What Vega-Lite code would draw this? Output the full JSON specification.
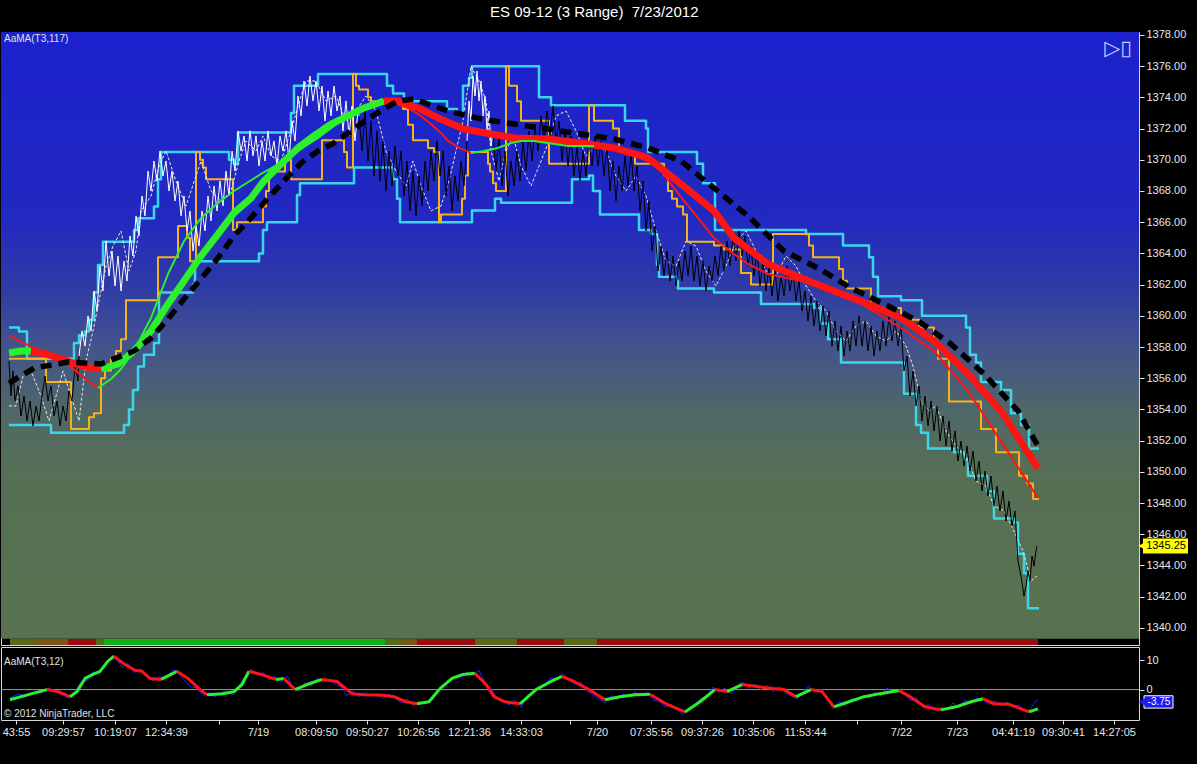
{
  "$schema": "https://vega.github.io/schema/vega-lite/v6.json",
  "background": "black",
  "padding": {"left": 0, "top": 5, "right": 8, "bottom": 29},
  "spacing": 0,
  "title": {"text": "ES 09-12 (3 Range) \u00a07/23/2012", "color": "white", "fontSize": 15, "font": "Liberation Sans", "fontWeight": "normal", "anchor": "middle", "frame": "bounds", "offset": 8},
  "config": {
    "view": {"stroke": "#d8d8d8", "strokeWidth": 1},
    "axis": {"labelFont": "Liberation Sans", "labelFontSize": 11, "labelColor": "#e6e6e6", "tickColor": "#e6e6e6", "domain": false, "grid": false, "labelOverlap": false, "labelFlush": false},
    "text": {"font": "Liberation Sans"}
  },
  "datasets": {
    "hi": [{"x":8,"y":1359.25},{"x":18,"y":1359},{"x":26,"y":1357.25},{"x":73,"y":1358.25},{"x":78,"y":1358.75},{"x":84,"y":1359},{"x":88,"y":1359.75},{"x":93,"y":1361.5},{"x":97,"y":1363.25},{"x":102,"y":1364.75},{"x":133,"y":1365.5},{"x":137,"y":1366.25},{"x":153,"y":1367},{"x":157,"y":1368.75},{"x":160,"y":1370.5},{"x":228,"y":1370},{"x":233,"y":1369.75},{"x":237,"y":1371.75},{"x":290,"y":1373},{"x":293,"y":1374.75},{"x":317,"y":1375.5},{"x":386,"y":1374.75},{"x":392,"y":1374.25},{"x":403,"y":1373.75},{"x":446,"y":1373.25},{"x":456,"y":1373},{"x":462,"y":1374.75},{"x":468,"y":1375.25},{"x":471,"y":1376},{"x":538,"y":1374},{"x":550,"y":1373.5},{"x":624,"y":1372.5},{"x":645,"y":1372},{"x":647,"y":1370.5},{"x":696,"y":1369.75},{"x":702,"y":1368.5},{"x":714,"y":1365.5},{"x":805,"y":1365.25},{"x":842,"y":1364.5},{"x":868,"y":1363.75},{"x":872,"y":1362.5},{"x":877,"y":1361.25},{"x":900,"y":1361},{"x":921,"y":1360},{"x":965,"y":1359.25},{"x":969,"y":1357.5},{"x":975,"y":1357},{"x":980,"y":1355.75},{"x":1000,"y":1355.25},{"x":1010,"y":1353.75},{"x":1020,"y":1353},{"x":1028,"y":1351.5},{"x":1038,"y":1351.5}],
    "lo": [{"x":8,"y":1353},{"x":50,"y":1352.5},{"x":123,"y":1353},{"x":128,"y":1354},{"x":132,"y":1355.25},{"x":137,"y":1356.75},{"x":143,"y":1357.5},{"x":153,"y":1358.25},{"x":158,"y":1361.5},{"x":192,"y":1362},{"x":194,"y":1363.5},{"x":258,"y":1364},{"x":262,"y":1365.5},{"x":266,"y":1366},{"x":296,"y":1367.75},{"x":299,"y":1368.5},{"x":353,"y":1369.5},{"x":392,"y":1368.75},{"x":396,"y":1367.5},{"x":399,"y":1366},{"x":471,"y":1366.75},{"x":494,"y":1367.5},{"x":500,"y":1367.25},{"x":571,"y":1368.75},{"x":588,"y":1369},{"x":592,"y":1368},{"x":599,"y":1366.5},{"x":638,"y":1365.5},{"x":650,"y":1365.25},{"x":656,"y":1363.25},{"x":658,"y":1362.5},{"x":675,"y":1362.25},{"x":677,"y":1361.75},{"x":713,"y":1361.5},{"x":760,"y":1360.75},{"x":813,"y":1360.5},{"x":820,"y":1359.5},{"x":827,"y":1358.5},{"x":840,"y":1357},{"x":903,"y":1355},{"x":915,"y":1353},{"x":920,"y":1352.5},{"x":927,"y":1351.5},{"x":953,"y":1351.25},{"x":963,"y":1350.75},{"x":967,"y":1349.75},{"x":986,"y":1348.75},{"x":993,"y":1347},{"x":1013,"y":1346.75},{"x":1017,"y":1344.75},{"x":1023,"y":1343.5},{"x":1027,"y":1341.25},{"x":1038,"y":1341.25}],
    "orange": [{"x":8,"y":1357.25},{"x":45,"y":1355.75},{"x":70,"y":1352.75},{"x":88,"y":1353.5},{"x":93,"y":1353.75},{"x":100,"y":1356},{"x":104,"y":1356.5},{"x":110,"y":1357.25},{"x":115,"y":1357.75},{"x":120,"y":1358.5},{"x":125,"y":1361},{"x":157,"y":1363.75},{"x":177,"y":1365.75},{"x":186,"y":1365},{"x":189,"y":1363.5},{"x":195,"y":1370.5},{"x":199,"y":1370},{"x":202,"y":1369.5},{"x":205,"y":1368.75},{"x":232,"y":1365.5},{"x":236,"y":1366},{"x":262,"y":1367},{"x":265,"y":1368},{"x":268,"y":1369.25},{"x":284,"y":1370},{"x":290,"y":1368.75},{"x":321,"y":1371.25},{"x":343,"y":1370.5},{"x":346,"y":1369.5},{"x":352,"y":1375.5},{"x":355,"y":1374.75},{"x":358,"y":1374.5},{"x":367,"y":1374},{"x":370,"y":1373.75},{"x":402,"y":1373.25},{"x":407,"y":1372.25},{"x":412,"y":1371.25},{"x":427,"y":1370.75},{"x":433,"y":1370.5},{"x":438,"y":1366},{"x":440,"y":1366.5},{"x":461,"y":1367.5},{"x":464,"y":1369},{"x":467,"y":1370.5},{"x":487,"y":1369.75},{"x":489,"y":1369.25},{"x":492,"y":1368.5},{"x":495,"y":1368},{"x":505,"y":1376},{"x":508,"y":1374.75},{"x":516,"y":1373.75},{"x":520,"y":1372.5},{"x":548,"y":1369.75},{"x":588,"y":1373.5},{"x":593,"y":1372.5},{"x":612,"y":1372},{"x":618,"y":1370.5},{"x":634,"y":1369.75},{"x":663,"y":1369},{"x":667,"y":1368},{"x":671,"y":1367.5},{"x":676,"y":1367},{"x":682,"y":1366.5},{"x":686,"y":1364.75},{"x":713,"y":1364.5},{"x":723,"y":1364.25},{"x":740,"y":1362.75},{"x":750,"y":1362},{"x":772,"y":1365.25},{"x":808,"y":1364.5},{"x":812,"y":1363.75},{"x":838,"y":1363},{"x":842,"y":1362.25},{"x":846,"y":1361.75},{"x":870,"y":1360.5},{"x":900,"y":1359.75},{"x":918,"y":1359.25},{"x":933,"y":1358.25},{"x":937,"y":1357.25},{"x":948,"y":1354.5},{"x":980,"y":1352.75},{"x":995,"y":1351.25},{"x":1018,"y":1349.75},{"x":1026,"y":1349.25},{"x":1032,"y":1348.25},{"x":1038,"y":1348.25}],
    "dots": [{"x":8,"y":1354.22},{"x":15,"y":1354.22},{"x":22,"y":1356.14},{"x":30,"y":1356.46},{"x":40,"y":1354.86},{"x":48,"y":1353.26},{"x":55,"y":1354.86},{"x":62,"y":1356.46},{"x":70,"y":1354.86},{"x":78,"y":1353.26},{"x":85,"y":1357.1},{"x":92,"y":1359.03},{"x":98,"y":1360.95},{"x":105,"y":1363.19},{"x":112,"y":1364.47},{"x":120,"y":1365.44},{"x":128,"y":1362.87},{"x":135,"y":1364.15},{"x":140,"y":1366.72},{"x":150,"y":1367.68},{"x":158,"y":1369.6},{"x":165,"y":1370.56},{"x":175,"y":1368.64},{"x":185,"y":1367.04},{"x":195,"y":1368.96},{"x":200,"y":1369.92},{"x":210,"y":1368},{"x":220,"y":1367.36},{"x":230,"y":1368},{"x":238,"y":1369.92},{"x":245,"y":1371.21},{"x":255,"y":1370.56},{"x":262,"y":1371.53},{"x":270,"y":1370.24},{"x":280,"y":1369.92},{"x":290,"y":1371.85},{"x":297,"y":1373.45},{"x":305,"y":1375.05},{"x":315,"y":1375.05},{"x":325,"y":1373.77},{"x":335,"y":1374.09},{"x":345,"y":1372.49},{"x":355,"y":1373.13},{"x":365,"y":1374.09},{"x":375,"y":1373.13},{"x":385,"y":1370.56},{"x":395,"y":1369.28},{"x":405,"y":1368.32},{"x":412,"y":1369.92},{"x":420,"y":1368.32},{"x":430,"y":1366.72},{"x":440,"y":1367.04},{"x":448,"y":1368.64},{"x":455,"y":1370.56},{"x":462,"y":1372.49},{"x":470,"y":1376.01},{"x":478,"y":1375.05},{"x":485,"y":1373.77},{"x":490,"y":1370.56},{"x":498,"y":1368.64},{"x":505,"y":1370.56},{"x":512,"y":1371.53},{"x":520,"y":1369.6},{"x":530,"y":1368.32},{"x":540,"y":1369.92},{"x":548,"y":1371.21},{"x":555,"y":1372.81},{"x":565,"y":1373.13},{"x":575,"y":1371.85},{"x":585,"y":1370.24},{"x":595,"y":1370.88},{"x":605,"y":1370.56},{"x":615,"y":1368.96},{"x":625,"y":1368},{"x":635,"y":1368.96},{"x":645,"y":1367.68},{"x":655,"y":1365.44},{"x":665,"y":1363.51},{"x":675,"y":1363.19},{"x":685,"y":1364.79},{"x":695,"y":1364.47},{"x":705,"y":1362.87},{"x":715,"y":1361.91},{"x":725,"y":1363.19},{"x":735,"y":1364.79},{"x":745,"y":1365.44},{"x":755,"y":1364.15},{"x":765,"y":1362.87},{"x":775,"y":1362.55},{"x":785,"y":1363.83},{"x":795,"y":1363.19},{"x":805,"y":1361.91},{"x":815,"y":1360.95},{"x":825,"y":1360.31},{"x":835,"y":1359.03},{"x":845,"y":1358.38},{"x":855,"y":1359.35},{"x":865,"y":1359.67},{"x":875,"y":1358.71},{"x":885,"y":1358.38},{"x":895,"y":1359.03},{"x":905,"y":1358.06},{"x":912,"y":1356.78},{"x":920,"y":1354.54},{"x":928,"y":1353.9},{"x":935,"y":1354.22},{"x":945,"y":1352.62},{"x":955,"y":1351.65},{"x":965,"y":1351.01},{"x":975,"y":1349.41},{"x":985,"y":1349.09},{"x":993,"y":1347.81},{"x":1003,"y":1347.49},{"x":1013,"y":1346.2},{"x":1022,"y":1344.92},{"x":1030,"y":1343},{"x":1036,"y":1343.32}],
    "price": [
      {"x":8,"y":1357.1,"g":1,"c":"b"},{"x":10,"y":1354.86,"g":1,"c":"b"},{"x":12,"y":1356.46,"g":1,"c":"b"},{"x":14,"y":1354.54,"g":1,"c":"b"},{"x":17,"y":1355.5,"g":1,"c":"b"},{"x":20,"y":1353.58,"g":1,"c":"b"},{"x":23,"y":1354.86,"g":1,"c":"b"},{"x":26,"y":1353.26,"g":1,"c":"b"},{"x":29,"y":1354.54,"g":1,"c":"b"},{"x":32,"y":1352.94,"g":1,"c":"b"},{"x":35,"y":1354.22,"g":1,"c":"b"},{"x":38,"y":1353.26,"g":1,"c":"b"},{"x":41,"y":1354.86,"g":1,"c":"b"},{"x":44,"y":1356.14,"g":1,"c":"b"},{"x":47,"y":1354.54,"g":1,"c":"b"},{"x":50,"y":1355.5,"g":1,"c":"b"},{"x":53,"y":1353.58,"g":1,"c":"b"},{"x":56,"y":1354.54,"g":1,"c":"b"},{"x":59,"y":1352.94,"g":1,"c":"b"},{"x":62,"y":1354.22,"g":1,"c":"b"},{"x":65,"y":1353.26,"g":1,"c":"b"},{"x":68,"y":1355.18,"g":1,"c":"b"},{"x":71,"y":1354.54,"g":1,"c":"b"},{"x":74,"y":1356.78,"g":1,"c":"b"},{"x":77,"y":1355.82,"g":1,"c":"b"},{"x":78,"y":1357.42,"g":1,"c":"b"},
      {"x":78,"y":1357.42,"g":2,"c":"w"},{"x":81,"y":1359.03,"g":2,"c":"w"},{"x":84,"y":1358.06,"g":2,"c":"w"},{"x":87,"y":1359.99,"g":2,"c":"w"},{"x":90,"y":1359.03,"g":2,"c":"w"},{"x":93,"y":1361.59,"g":2,"c":"w"},{"x":96,"y":1360.31,"g":2,"c":"w"},{"x":99,"y":1363.19,"g":2,"c":"w"},{"x":102,"y":1361.59,"g":2,"c":"w"},{"x":105,"y":1364.79,"g":2,"c":"w"},{"x":108,"y":1362.55,"g":2,"c":"w"},{"x":111,"y":1364.15,"g":2,"c":"w"},{"x":114,"y":1361.91,"g":2,"c":"w"},{"x":117,"y":1363.83,"g":2,"c":"w"},{"x":120,"y":1361.59,"g":2,"c":"w"},{"x":123,"y":1363.51,"g":2,"c":"w"},{"x":126,"y":1362.23,"g":2,"c":"w"},{"x":129,"y":1365.12,"g":2,"c":"w"},{"x":132,"y":1363.83,"g":2,"c":"w"},{"x":135,"y":1366.4,"g":2,"c":"w"},{"x":138,"y":1365.12,"g":2,"c":"w"},{"x":141,"y":1367.68,"g":2,"c":"w"},{"x":144,"y":1366.4,"g":2,"c":"w"},{"x":147,"y":1369.28,"g":2,"c":"w"},{"x":150,"y":1368,"g":2,"c":"w"},{"x":153,"y":1369.92,"g":2,"c":"w"},{"x":156,"y":1368.64,"g":2,"c":"w"},{"x":159,"y":1370.56,"g":2,"c":"w"},{"x":162,"y":1368.96,"g":2,"c":"w"},{"x":165,"y":1369.92,"g":2,"c":"w"},{"x":168,"y":1368,"g":2,"c":"w"},{"x":171,"y":1369.28,"g":2,"c":"w"},{"x":174,"y":1367.36,"g":2,"c":"w"},{"x":177,"y":1368.64,"g":2,"c":"w"},{"x":180,"y":1366.4,"g":2,"c":"w"},{"x":183,"y":1367.68,"g":2,"c":"w"},{"x":186,"y":1365.44,"g":2,"c":"w"},{"x":189,"y":1366.72,"g":2,"c":"w"},{"x":192,"y":1364.15,"g":2,"c":"w"},{"x":195,"y":1365.76,"g":2,"c":"w"},{"x":198,"y":1364.47,"g":2,"c":"w"},{"x":201,"y":1366.72,"g":2,"c":"w"},{"x":204,"y":1365.44,"g":2,"c":"w"},{"x":207,"y":1367.68,"g":2,"c":"w"},{"x":210,"y":1366.08,"g":2,"c":"w"},{"x":213,"y":1368.32,"g":2,"c":"w"},{"x":216,"y":1366.72,"g":2,"c":"w"},{"x":219,"y":1368.64,"g":2,"c":"w"},{"x":222,"y":1367.04,"g":2,"c":"w"},{"x":225,"y":1369.28,"g":2,"c":"w"},{"x":228,"y":1367.68,"g":2,"c":"w"},{"x":231,"y":1370.56,"g":2,"c":"w"},{"x":234,"y":1369.28,"g":2,"c":"w"},{"x":237,"y":1371.85,"g":2,"c":"w"},{"x":240,"y":1370.56,"g":2,"c":"w"},{"x":243,"y":1371.53,"g":2,"c":"w"},{"x":246,"y":1369.92,"g":2,"c":"w"},{"x":249,"y":1371.85,"g":2,"c":"w"},{"x":252,"y":1370.24,"g":2,"c":"w"},{"x":255,"y":1371.53,"g":2,"c":"w"},{"x":258,"y":1369.6,"g":2,"c":"w"},{"x":261,"y":1371.21,"g":2,"c":"w"},{"x":264,"y":1369.92,"g":2,"c":"w"},{"x":267,"y":1371.85,"g":2,"c":"w"},{"x":270,"y":1370.24,"g":2,"c":"w"},{"x":273,"y":1371.21,"g":2,"c":"w"},{"x":276,"y":1369.6,"g":2,"c":"w"},{"x":279,"y":1371.53,"g":2,"c":"w"},{"x":282,"y":1370.56,"g":2,"c":"w"},{"x":285,"y":1371.85,"g":2,"c":"w"},{"x":288,"y":1369.92,"g":2,"c":"w"},{"x":291,"y":1372.49,"g":2,"c":"w"},{"x":294,"y":1371.21,"g":2,"c":"w"},{"x":297,"y":1374.09,"g":2,"c":"w"},{"x":300,"y":1372.81,"g":2,"c":"w"},{"x":303,"y":1375.05,"g":2,"c":"w"},{"x":306,"y":1373.45,"g":2,"c":"w"},{"x":309,"y":1375.37,"g":2,"c":"w"},{"x":312,"y":1373.77,"g":2,"c":"w"},{"x":315,"y":1375.05,"g":2,"c":"w"},{"x":318,"y":1373.13,"g":2,"c":"w"},{"x":321,"y":1374.73,"g":2,"c":"w"},{"x":324,"y":1372.49,"g":2,"c":"w"},{"x":327,"y":1374.41,"g":2,"c":"w"},{"x":330,"y":1372.81,"g":2,"c":"w"},{"x":333,"y":1374.73,"g":2,"c":"w"},{"x":336,"y":1373.13,"g":2,"c":"w"},{"x":339,"y":1374.09,"g":2,"c":"w"},{"x":342,"y":1371.85,"g":2,"c":"w"},{"x":345,"y":1373.77,"g":2,"c":"w"},{"x":348,"y":1371.53,"g":2,"c":"w"},{"x":351,"y":1373.45,"g":2,"c":"w"},{"x":354,"y":1371.21,"g":2,"c":"w"},{"x":357,"y":1373.13,"g":2,"c":"w"},{"x":358,"y":1372.81,"g":2,"c":"w"},
      {"x":358,"y":1372.81,"g":3,"c":"b"},{"x":361,"y":1370.56,"g":3,"c":"b"},{"x":364,"y":1373.13,"g":3,"c":"b"},{"x":367,"y":1369.92,"g":3,"c":"b"},{"x":370,"y":1372.49,"g":3,"c":"b"},{"x":373,"y":1368.96,"g":3,"c":"b"},{"x":376,"y":1371.85,"g":3,"c":"b"},{"x":379,"y":1368.64,"g":3,"c":"b"},{"x":382,"y":1371.21,"g":3,"c":"b"},{"x":385,"y":1368,"g":3,"c":"b"},{"x":388,"y":1370.56,"g":3,"c":"b"},{"x":391,"y":1368.32,"g":3,"c":"b"},{"x":394,"y":1370.88,"g":3,"c":"b"},{"x":397,"y":1368.96,"g":3,"c":"b"},{"x":400,"y":1370.56,"g":3,"c":"b"},{"x":403,"y":1367.68,"g":3,"c":"b"},{"x":406,"y":1369.92,"g":3,"c":"b"},{"x":409,"y":1366.72,"g":3,"c":"b"},{"x":412,"y":1369.28,"g":3,"c":"b"},{"x":415,"y":1366.4,"g":3,"c":"b"},{"x":418,"y":1368.96,"g":3,"c":"b"},{"x":421,"y":1367.04,"g":3,"c":"b"},{"x":424,"y":1369.92,"g":3,"c":"b"},{"x":427,"y":1368,"g":3,"c":"b"},{"x":430,"y":1370.56,"g":3,"c":"b"},{"x":433,"y":1368.64,"g":3,"c":"b"},{"x":436,"y":1371.21,"g":3,"c":"b"},{"x":439,"y":1368.96,"g":3,"c":"b"},{"x":442,"y":1370.56,"g":3,"c":"b"},{"x":445,"y":1367.68,"g":3,"c":"b"},{"x":448,"y":1369.6,"g":3,"c":"b"},{"x":451,"y":1366.72,"g":3,"c":"b"},{"x":454,"y":1368.96,"g":3,"c":"b"},{"x":457,"y":1367.36,"g":3,"c":"b"},{"x":460,"y":1369.92,"g":3,"c":"b"},{"x":463,"y":1368.32,"g":3,"c":"b"},{"x":466,"y":1371.21,"g":3,"c":"b"},
      {"x":466,"y":1371.21,"g":4,"c":"w"},{"x":468,"y":1373.77,"g":4,"c":"w"},{"x":470,"y":1372.49,"g":4,"c":"w"},{"x":472,"y":1375.37,"g":4,"c":"w"},{"x":474,"y":1374.09,"g":4,"c":"w"},{"x":476,"y":1375.69,"g":4,"c":"w"},{"x":478,"y":1373.77,"g":4,"c":"w"},{"x":480,"y":1375.05,"g":4,"c":"w"},{"x":482,"y":1372.81,"g":4,"c":"w"},{"x":484,"y":1374.09,"g":4,"c":"w"},{"x":486,"y":1371.85,"g":4,"c":"w"},{"x":488,"y":1373.13,"g":4,"c":"w"},{"x":490,"y":1370.88,"g":4,"c":"w"},{"x":492,"y":1371.85,"g":4,"c":"w"},
      {"x":492,"y":1371.85,"g":5,"c":"b"},{"x":495,"y":1369.28,"g":5,"c":"b"},{"x":498,"y":1371.53,"g":5,"c":"b"},{"x":501,"y":1368.32,"g":5,"c":"b"},{"x":504,"y":1370.56,"g":5,"c":"b"},{"x":507,"y":1367.68,"g":5,"c":"b"},{"x":510,"y":1369.92,"g":5,"c":"b"},{"x":513,"y":1368.32,"g":5,"c":"b"},{"x":516,"y":1370.56,"g":5,"c":"b"},{"x":519,"y":1368.64,"g":5,"c":"b"},{"x":522,"y":1371.21,"g":5,"c":"b"},{"x":525,"y":1369.28,"g":5,"c":"b"},{"x":528,"y":1371.85,"g":5,"c":"b"},{"x":531,"y":1369.92,"g":5,"c":"b"},{"x":534,"y":1372.17,"g":5,"c":"b"},{"x":537,"y":1370.56,"g":5,"c":"b"},{"x":540,"y":1372.81,"g":5,"c":"b"},{"x":543,"y":1371.21,"g":5,"c":"b"},{"x":546,"y":1373.13,"g":5,"c":"b"},{"x":549,"y":1371.53,"g":5,"c":"b"},{"x":552,"y":1373.45,"g":5,"c":"b"},{"x":555,"y":1371.21,"g":5,"c":"b"},{"x":558,"y":1372.49,"g":5,"c":"b"},{"x":561,"y":1369.92,"g":5,"c":"b"},{"x":564,"y":1371.85,"g":5,"c":"b"},{"x":567,"y":1369.6,"g":5,"c":"b"},{"x":570,"y":1371.53,"g":5,"c":"b"},{"x":573,"y":1368.96,"g":5,"c":"b"},{"x":576,"y":1370.88,"g":5,"c":"b"},{"x":579,"y":1368.64,"g":5,"c":"b"},{"x":582,"y":1370.56,"g":5,"c":"b"},{"x":585,"y":1368.96,"g":5,"c":"b"},{"x":588,"y":1371.21,"g":5,"c":"b"},{"x":591,"y":1369.6,"g":5,"c":"b"},{"x":594,"y":1371.53,"g":5,"c":"b"},{"x":597,"y":1369.6,"g":5,"c":"b"},{"x":600,"y":1371.21,"g":5,"c":"b"},{"x":603,"y":1368.96,"g":5,"c":"b"},{"x":606,"y":1370.88,"g":5,"c":"b"},{"x":609,"y":1368,"g":5,"c":"b"},{"x":612,"y":1369.92,"g":5,"c":"b"},{"x":615,"y":1367.36,"g":5,"c":"b"},{"x":618,"y":1369.6,"g":5,"c":"b"},{"x":621,"y":1368,"g":5,"c":"b"},{"x":624,"y":1370.24,"g":5,"c":"b"},{"x":627,"y":1368.32,"g":5,"c":"b"},{"x":630,"y":1370.56,"g":5,"c":"b"},{"x":633,"y":1368,"g":5,"c":"b"},{"x":636,"y":1369.6,"g":5,"c":"b"},{"x":639,"y":1366.72,"g":5,"c":"b"},{"x":642,"y":1368.64,"g":5,"c":"b"},{"x":645,"y":1365.44,"g":5,"c":"b"},{"x":648,"y":1367.36,"g":5,"c":"b"},{"x":651,"y":1364.15,"g":5,"c":"b"},{"x":654,"y":1365.76,"g":5,"c":"b"},{"x":657,"y":1362.87,"g":5,"c":"b"},{"x":660,"y":1364.47,"g":5,"c":"b"},{"x":663,"y":1362.55,"g":5,"c":"b"},{"x":666,"y":1364.15,"g":5,"c":"b"},{"x":669,"y":1362.23,"g":5,"c":"b"},{"x":672,"y":1363.83,"g":5,"c":"b"},{"x":675,"y":1361.91,"g":5,"c":"b"},{"x":678,"y":1363.51,"g":5,"c":"b"},{"x":681,"y":1362.23,"g":5,"c":"b"},{"x":684,"y":1364.15,"g":5,"c":"b"},{"x":687,"y":1362.55,"g":5,"c":"b"},{"x":690,"y":1364.47,"g":5,"c":"b"},{"x":693,"y":1362.23,"g":5,"c":"b"},{"x":696,"y":1363.83,"g":5,"c":"b"},{"x":699,"y":1361.91,"g":5,"c":"b"},{"x":702,"y":1363.51,"g":5,"c":"b"},{"x":705,"y":1361.59,"g":5,"c":"b"},{"x":708,"y":1363.19,"g":5,"c":"b"},{"x":711,"y":1362.23,"g":5,"c":"b"},{"x":714,"y":1363.83,"g":5,"c":"b"},{"x":717,"y":1362.55,"g":5,"c":"b"},{"x":720,"y":1364.47,"g":5,"c":"b"},{"x":723,"y":1362.87,"g":5,"c":"b"},{"x":726,"y":1364.79,"g":5,"c":"b"},{"x":729,"y":1363.19,"g":5,"c":"b"},{"x":732,"y":1365.12,"g":5,"c":"b"},{"x":735,"y":1363.51,"g":5,"c":"b"},{"x":738,"y":1365.44,"g":5,"c":"b"},{"x":741,"y":1363.83,"g":5,"c":"b"},{"x":744,"y":1365.12,"g":5,"c":"b"},{"x":747,"y":1363.19,"g":5,"c":"b"},{"x":750,"y":1364.47,"g":5,"c":"b"},{"x":753,"y":1362.55,"g":5,"c":"b"},{"x":756,"y":1364.15,"g":5,"c":"b"},{"x":759,"y":1361.91,"g":5,"c":"b"},{"x":762,"y":1363.51,"g":5,"c":"b"},{"x":765,"y":1361.59,"g":5,"c":"b"},{"x":768,"y":1363.19,"g":5,"c":"b"},{"x":771,"y":1361.27,"g":5,"c":"b"},{"x":774,"y":1362.87,"g":5,"c":"b"},{"x":777,"y":1360.95,"g":5,"c":"b"},{"x":780,"y":1362.55,"g":5,"c":"b"},{"x":783,"y":1361.27,"g":5,"c":"b"},{"x":786,"y":1363.19,"g":5,"c":"b"},{"x":789,"y":1361.59,"g":5,"c":"b"},{"x":792,"y":1362.87,"g":5,"c":"b"},{"x":795,"y":1360.95,"g":5,"c":"b"},{"x":798,"y":1362.23,"g":5,"c":"b"},{"x":801,"y":1360.31,"g":5,"c":"b"},{"x":804,"y":1361.59,"g":5,"c":"b"},{"x":807,"y":1359.67,"g":5,"c":"b"},{"x":810,"y":1361.27,"g":5,"c":"b"},{"x":813,"y":1359.35,"g":5,"c":"b"},{"x":816,"y":1360.95,"g":5,"c":"b"},{"x":819,"y":1359.03,"g":5,"c":"b"},{"x":822,"y":1360.63,"g":5,"c":"b"},{"x":825,"y":1358.71,"g":5,"c":"b"},{"x":828,"y":1360.31,"g":5,"c":"b"},{"x":831,"y":1358.06,"g":5,"c":"b"},{"x":834,"y":1359.67,"g":5,"c":"b"},{"x":837,"y":1357.74,"g":5,"c":"b"},{"x":840,"y":1359.35,"g":5,"c":"b"},{"x":843,"y":1357.42,"g":5,"c":"b"},{"x":846,"y":1359.03,"g":5,"c":"b"},{"x":849,"y":1357.74,"g":5,"c":"b"},{"x":852,"y":1359.67,"g":5,"c":"b"},{"x":855,"y":1358.06,"g":5,"c":"b"},{"x":858,"y":1359.99,"g":5,"c":"b"},{"x":861,"y":1358.06,"g":5,"c":"b"},{"x":864,"y":1359.67,"g":5,"c":"b"},{"x":867,"y":1357.74,"g":5,"c":"b"},{"x":870,"y":1359.35,"g":5,"c":"b"},{"x":873,"y":1357.42,"g":5,"c":"b"},{"x":876,"y":1359.03,"g":5,"c":"b"},{"x":879,"y":1357.74,"g":5,"c":"b"},{"x":882,"y":1359.67,"g":5,"c":"b"},{"x":885,"y":1358.06,"g":5,"c":"b"},{"x":888,"y":1359.99,"g":5,"c":"b"},{"x":891,"y":1358.38,"g":5,"c":"b"},{"x":894,"y":1359.67,"g":5,"c":"b"},{"x":897,"y":1358.06,"g":5,"c":"b"},{"x":900,"y":1359.35,"g":5,"c":"b"},{"x":903,"y":1356.46,"g":5,"c":"b"},{"x":906,"y":1357.42,"g":5,"c":"b"},{"x":909,"y":1354.86,"g":5,"c":"b"},{"x":912,"y":1356.46,"g":5,"c":"b"},{"x":915,"y":1354.22,"g":5,"c":"b"},{"x":918,"y":1355.5,"g":5,"c":"b"},{"x":921,"y":1353.26,"g":5,"c":"b"},{"x":924,"y":1354.86,"g":5,"c":"b"},{"x":927,"y":1352.94,"g":5,"c":"b"},{"x":930,"y":1354.54,"g":5,"c":"b"},{"x":933,"y":1352.62,"g":5,"c":"b"},{"x":936,"y":1354.22,"g":5,"c":"b"},{"x":939,"y":1351.97,"g":5,"c":"b"},{"x":942,"y":1353.58,"g":5,"c":"b"},{"x":945,"y":1351.65,"g":5,"c":"b"},{"x":948,"y":1353.26,"g":5,"c":"b"},{"x":951,"y":1351.33,"g":5,"c":"b"},{"x":954,"y":1352.62,"g":5,"c":"b"},{"x":957,"y":1350.69,"g":5,"c":"b"},{"x":960,"y":1351.97,"g":5,"c":"b"},{"x":963,"y":1350.37,"g":5,"c":"b"},{"x":966,"y":1351.65,"g":5,"c":"b"},{"x":969,"y":1350.05,"g":5,"c":"b"},{"x":972,"y":1351.33,"g":5,"c":"b"},{"x":975,"y":1349.41,"g":5,"c":"b"},{"x":978,"y":1350.69,"g":5,"c":"b"},{"x":981,"y":1348.77,"g":5,"c":"b"},{"x":984,"y":1350.05,"g":5,"c":"b"},{"x":987,"y":1348.45,"g":5,"c":"b"},{"x":990,"y":1349.73,"g":5,"c":"b"},{"x":993,"y":1347.81,"g":5,"c":"b"},{"x":996,"y":1349.09,"g":5,"c":"b"},{"x":999,"y":1347.49,"g":5,"c":"b"},{"x":1002,"y":1348.77,"g":5,"c":"b"},{"x":1005,"y":1346.85,"g":5,"c":"b"},{"x":1008,"y":1348.13,"g":5,"c":"b"},{"x":1011,"y":1346.53,"g":5,"c":"b"},{"x":1014,"y":1347.49,"g":5,"c":"b"},{"x":1017,"y":1344.28,"g":5,"c":"b"},{"x":1020,"y":1343.32,"g":5,"c":"b"},{"x":1023,"y":1342.04,"g":5,"c":"b"},{"x":1025,"y":1342.68,"g":5,"c":"b"},{"x":1027,"y":1343.64,"g":5,"c":"b"},{"x":1029,"y":1343,"g":5,"c":"b"},{"x":1031,"y":1344.6,"g":5,"c":"b"},{"x":1033,"y":1343.96,"g":5,"c":"b"},{"x":1035,"y":1344.92,"g":5,"c":"b"},{"x":1036,"y":1345.25,"g":5,"c":"b"}
    ],
    "ma": [
      {"x":8,"y":1357.62,"g":1,"c":"g"},{"x":20,"y":1357.74,"g":1,"c":"g"},{"x":30,"y":1357.74,"g":1,"c":"g"},
      {"x":30,"y":1357.74,"g":2,"c":"r"},{"x":45,"y":1357.55,"g":2,"c":"r"},{"x":60,"y":1357.23,"g":2,"c":"r"},{"x":75,"y":1356.91,"g":2,"c":"r"},{"x":90,"y":1356.65,"g":2,"c":"r"},{"x":100,"y":1356.59,"g":2,"c":"r"},
      {"x":100,"y":1356.59,"g":3,"c":"g"},{"x":117,"y":1356.91,"g":3,"c":"g"},{"x":133,"y":1357.74,"g":3,"c":"g"},{"x":150,"y":1359.03,"g":3,"c":"g"},{"x":167,"y":1360.76,"g":3,"c":"g"},{"x":183,"y":1362.23,"g":3,"c":"g"},{"x":200,"y":1363.83,"g":3,"c":"g"},{"x":217,"y":1365.24,"g":3,"c":"g"},{"x":233,"y":1366.59,"g":3,"c":"g"},{"x":250,"y":1367.55,"g":3,"c":"g"},{"x":263,"y":1368.64,"g":3,"c":"g"},{"x":280,"y":1369.73,"g":3,"c":"g"},{"x":297,"y":1370.76,"g":3,"c":"g"},{"x":313,"y":1371.53,"g":3,"c":"g"},{"x":330,"y":1372.29,"g":3,"c":"g"},{"x":347,"y":1372.81,"g":3,"c":"g"},{"x":363,"y":1373.32,"g":3,"c":"g"},{"x":383,"y":1373.77,"g":3,"c":"g"},
      {"x":383,"y":1373.77,"g":4,"c":"r"},{"x":397,"y":1373.77,"g":4,"c":"r"},{"x":417,"y":1373.32,"g":4,"c":"r"},{"x":437,"y":1372.68,"g":4,"c":"r"},{"x":463,"y":1371.97,"g":4,"c":"r"},{"x":490,"y":1371.65,"g":4,"c":"r"},{"x":513,"y":1371.4,"g":4,"c":"r"},{"x":547,"y":1371.33,"g":4,"c":"r"},{"x":580,"y":1371.08,"g":4,"c":"r"},{"x":613,"y":1370.76,"g":4,"c":"r"},{"x":647,"y":1370.12,"g":4,"c":"r"},{"x":680,"y":1368.45,"g":4,"c":"r"},{"x":713,"y":1366.72,"g":4,"c":"r"},{"x":733,"y":1364.99,"g":4,"c":"r"},{"x":767,"y":1363.32,"g":4,"c":"r"},{"x":800,"y":1362.42,"g":4,"c":"r"},{"x":833,"y":1361.59,"g":4,"c":"r"},{"x":867,"y":1360.76,"g":4,"c":"r"},{"x":900,"y":1359.86,"g":4,"c":"r"},{"x":933,"y":1358.38,"g":4,"c":"r"},{"x":967,"y":1356.27,"g":4,"c":"r"},{"x":1000,"y":1353.9,"g":4,"c":"r"},{"x":1037,"y":1350.24,"g":4,"c":"r"}
    ],
    "ma2": [
      {"x":8,"y":1358.71,"g":1,"c":"r"},{"x":33,"y":1357.94,"g":1,"c":"r"},{"x":67,"y":1356.91,"g":1,"c":"r"},{"x":83,"y":1356.01,"g":1,"c":"r"},{"x":97,"y":1355.37,"g":1,"c":"r"},
      {"x":97,"y":1355.37,"g":2,"c":"g"},{"x":110,"y":1355.95,"g":2,"c":"g"},{"x":120,"y":1356.59,"g":2,"c":"g"},{"x":133,"y":1357.74,"g":2,"c":"g"},{"x":150,"y":1359.86,"g":2,"c":"g"},{"x":167,"y":1362.68,"g":2,"c":"g"},{"x":183,"y":1364.79,"g":2,"c":"g"},{"x":200,"y":1366.27,"g":2,"c":"g"},{"x":217,"y":1367.23,"g":2,"c":"g"},{"x":233,"y":1368,"g":2,"c":"g"},{"x":260,"y":1369.09,"g":2,"c":"g"},{"x":283,"y":1369.92,"g":2,"c":"g"},{"x":300,"y":1370.69,"g":2,"c":"g"},{"x":317,"y":1371.4,"g":2,"c":"g"},{"x":333,"y":1372.17,"g":2,"c":"g"},{"x":350,"y":1372.94,"g":2,"c":"g"},{"x":367,"y":1373.45,"g":2,"c":"g"},{"x":383,"y":1373.77,"g":2,"c":"g"},
      {"x":383,"y":1373.77,"g":3,"c":"r"},{"x":395,"y":1373.58,"g":3,"c":"r"},{"x":407,"y":1373.32,"g":3,"c":"r"},{"x":420,"y":1372.81,"g":3,"c":"r"},{"x":430,"y":1372.29,"g":3,"c":"r"},{"x":440,"y":1371.72,"g":3,"c":"r"},{"x":447,"y":1371.21,"g":3,"c":"r"},{"x":458,"y":1370.76,"g":3,"c":"r"},{"x":470,"y":1370.44,"g":3,"c":"r"},
      {"x":470,"y":1370.44,"g":4,"c":"g"},{"x":483,"y":1370.56,"g":4,"c":"g"},{"x":497,"y":1370.76,"g":4,"c":"g"},{"x":510,"y":1371.08,"g":4,"c":"g"},{"x":520,"y":1371.21,"g":4,"c":"g"},{"x":533,"y":1371.21,"g":4,"c":"g"},{"x":547,"y":1371.08,"g":4,"c":"g"},{"x":567,"y":1370.88,"g":4,"c":"g"},{"x":593,"y":1370.88,"g":4,"c":"g"},
      {"x":593,"y":1370.88,"g":5,"c":"r"},{"x":613,"y":1370.69,"g":5,"c":"r"},{"x":630,"y":1370.37,"g":5,"c":"r"},{"x":647,"y":1369.92,"g":5,"c":"r"},{"x":660,"y":1369.28,"g":5,"c":"r"},{"x":670,"y":1368.45,"g":5,"c":"r"},{"x":683,"y":1367.36,"g":5,"c":"r"},{"x":697,"y":1366.27,"g":5,"c":"r"},{"x":713,"y":1364.99,"g":5,"c":"r"},{"x":733,"y":1363.96,"g":5,"c":"r"},{"x":747,"y":1363.32,"g":5,"c":"r"},{"x":767,"y":1362.68,"g":5,"c":"r"},{"x":800,"y":1362.23,"g":5,"c":"r"},{"x":833,"y":1361.78,"g":5,"c":"r"},{"x":867,"y":1360.5,"g":5,"c":"r"},{"x":900,"y":1359.22,"g":5,"c":"r"},{"x":933,"y":1357.74,"g":5,"c":"r"},{"x":967,"y":1355.18,"g":5,"c":"r"},{"x":1000,"y":1351.97,"g":5,"c":"r"},{"x":1037,"y":1348.32,"g":5,"c":"r"}
    ],
    "dash": [{"x":8,"y":1355.69},{"x":33,"y":1356.65},{"x":67,"y":1357.04},{"x":100,"y":1356.91},{"x":133,"y":1357.74},{"x":150,"y":1358.58},{"x":167,"y":1359.79},{"x":183,"y":1361.08},{"x":200,"y":1362.36},{"x":217,"y":1363.71},{"x":233,"y":1365.12},{"x":250,"y":1366.27},{"x":267,"y":1367.55},{"x":283,"y":1368.64},{"x":300,"y":1369.79},{"x":317,"y":1370.56},{"x":333,"y":1371.08},{"x":350,"y":1371.85},{"x":367,"y":1372.62},{"x":383,"y":1373.26},{"x":397,"y":1373.77},{"x":413,"y":1373.9},{"x":430,"y":1373.51},{"x":447,"y":1373.13},{"x":480,"y":1372.62},{"x":513,"y":1372.29},{"x":547,"y":1371.97},{"x":580,"y":1371.65},{"x":613,"y":1371.33},{"x":647,"y":1370.76},{"x":680,"y":1369.92},{"x":713,"y":1368.19},{"x":747,"y":1366.4},{"x":783,"y":1364.15},{"x":817,"y":1363.06},{"x":850,"y":1361.78},{"x":883,"y":1360.76},{"x":917,"y":1359.67},{"x":950,"y":1358.19},{"x":983,"y":1356.27},{"x":1017,"y":1353.9},{"x":1037,"y":1351.65}],
    "strip": [{"x":9,"x2":32,"c":"ol"},{"x":32,"x2":67,"c":"br"},{"x":67,"x2":95,"c":"rd"},{"x":95,"x2":103,"c":"ol"},{"x":103,"x2":384,"c":"gn"},{"x":384,"x2":401,"c":"ol"},{"x":401,"x2":416,"c":"br"},{"x":416,"x2":474,"c":"rd"},{"x":474,"x2":516,"c":"ol"},{"x":516,"x2":563,"c":"rd"},{"x":563,"x2":596,"c":"ol"},{"x":596,"x2":1037,"c":"rd"}],
    "osc": [
      {"x":9,"v":-3.45,"g":1,"c":"g"},{"x":31,"v":-1.38,"g":1,"c":"g"},{"x":46,"v":0,"g":1,"c":"g"},
      {"x":46,"v":0,"g":2,"c":"r"},{"x":57,"v":-0.69,"g":2,"c":"r"},{"x":69,"v":-2.41,"g":2,"c":"r"},
      {"x":69,"v":-2.41,"g":3,"c":"g"},{"x":76,"v":-0.69,"g":3,"c":"g"},{"x":84,"v":3.79,"g":3,"c":"g"},{"x":92,"v":5.17,"g":3,"c":"g"},{"x":99,"v":6.21,"g":3,"c":"g"},{"x":107,"v":9.66,"g":3,"c":"g"},{"x":113,"v":11.38,"g":3,"c":"g"},
      {"x":113,"v":11.38,"g":4,"c":"r"},{"x":122,"v":8.97,"g":4,"c":"r"},{"x":134,"v":6.55,"g":4,"c":"r"},{"x":141,"v":6.21,"g":4,"c":"r"},{"x":149,"v":3.79,"g":4,"c":"r"},{"x":160,"v":3.45,"g":4,"c":"r"},
      {"x":160,"v":3.45,"g":5,"c":"g"},{"x":176,"v":6.21,"g":5,"c":"g"},
      {"x":176,"v":6.21,"g":6,"c":"r"},{"x":187,"v":3.79,"g":6,"c":"r"},{"x":199,"v":0,"g":6,"c":"r"},{"x":206,"v":-1.72,"g":6,"c":"r"},
      {"x":206,"v":-1.72,"g":7,"c":"g"},{"x":222,"v":-1.4,"g":7,"c":"g"},{"x":233,"v":-0.69,"g":7,"c":"g"},{"x":241,"v":1.72,"g":7,"c":"g"},{"x":248,"v":6.21,"g":7,"c":"g"},
      {"x":248,"v":6.21,"g":8,"c":"r"},{"x":260,"v":5.17,"g":8,"c":"r"},{"x":275,"v":3.45,"g":8,"c":"r"},
      {"x":275,"v":3.45,"g":9,"c":"g"},{"x":283,"v":3.79,"g":9,"c":"g"},
      {"x":283,"v":3.79,"g":10,"c":"r"},{"x":294,"v":0,"g":10,"c":"r"},
      {"x":294,"v":0,"g":11,"c":"g"},{"x":306,"v":1.72,"g":11,"c":"g"},{"x":321,"v":3.45,"g":11,"c":"g"},
      {"x":321,"v":3.45,"g":12,"c":"r"},{"x":336,"v":2.76,"g":12,"c":"r"},{"x":351,"v":-1.38,"g":12,"c":"r"},{"x":363,"v":-1.72,"g":12,"c":"r"},{"x":382,"v":-1.9,"g":12,"c":"r"},{"x":393,"v":-2.41,"g":12,"c":"r"},{"x":405,"v":-4.14,"g":12,"c":"r"},{"x":416,"v":-4.83,"g":12,"c":"r"},
      {"x":416,"v":-4.83,"g":13,"c":"g"},{"x":428,"v":-4.14,"g":13,"c":"g"},{"x":439,"v":0.34,"g":13,"c":"g"},{"x":451,"v":3.79,"g":13,"c":"g"},{"x":462,"v":5.17,"g":13,"c":"g"},{"x":474,"v":5.52,"g":13,"c":"g"},
      {"x":474,"v":5.52,"g":14,"c":"r"},{"x":485,"v":1.72,"g":14,"c":"r"},{"x":493,"v":-2.41,"g":14,"c":"r"},{"x":504,"v":-4.14,"g":14,"c":"r"},{"x":519,"v":-4.83,"g":14,"c":"r"},
      {"x":519,"v":-4.83,"g":15,"c":"g"},{"x":535,"v":0,"g":15,"c":"g"},{"x":550,"v":2.76,"g":15,"c":"g"},{"x":561,"v":4.48,"g":15,"c":"g"},
      {"x":561,"v":4.48,"g":16,"c":"r"},{"x":573,"v":2.76,"g":16,"c":"r"},{"x":588,"v":0,"g":16,"c":"r"},{"x":604,"v":-3.45,"g":16,"c":"r"},
      {"x":604,"v":-3.45,"g":17,"c":"g"},{"x":619,"v":-2.41,"g":17,"c":"g"},{"x":634,"v":-1.72,"g":17,"c":"g"},{"x":649,"v":-1.6,"g":17,"c":"g"},
      {"x":649,"v":-1.6,"g":18,"c":"r"},{"x":665,"v":-4.83,"g":18,"c":"r"},{"x":684,"v":-7.59,"g":18,"c":"r"},
      {"x":684,"v":-7.59,"g":19,"c":"g"},{"x":699,"v":-4.14,"g":19,"c":"g"},{"x":714,"v":0,"g":19,"c":"g"},
      {"x":714,"v":0,"g":20,"c":"r"},{"x":726,"v":-0.69,"g":20,"c":"r"},
      {"x":726,"v":-0.69,"g":21,"c":"g"},{"x":741,"v":1.72,"g":21,"c":"g"},
      {"x":741,"v":1.72,"g":22,"c":"r"},{"x":756,"v":1.03,"g":22,"c":"r"},{"x":772,"v":0.34,"g":22,"c":"r"},{"x":783,"v":0,"g":22,"c":"r"},{"x":795,"v":-2.41,"g":22,"c":"r"},
      {"x":795,"v":-2.41,"g":23,"c":"g"},{"x":810,"v":0,"g":23,"c":"g"},
      {"x":810,"v":0,"g":24,"c":"r"},{"x":821,"v":-0.69,"g":24,"c":"r"},{"x":833,"v":-5.86,"g":24,"c":"r"},
      {"x":833,"v":-5.86,"g":25,"c":"g"},{"x":848,"v":-4.14,"g":25,"c":"g"},{"x":863,"v":-2.41,"g":25,"c":"g"},{"x":879,"v":-1.38,"g":25,"c":"g"},{"x":898,"v":-0.34,"g":25,"c":"g"},
      {"x":898,"v":-0.34,"g":26,"c":"r"},{"x":909,"v":-2.41,"g":26,"c":"r"},{"x":924,"v":-5.86,"g":26,"c":"r"},{"x":940,"v":-6.9,"g":26,"c":"r"},
      {"x":940,"v":-6.9,"g":27,"c":"g"},{"x":955,"v":-5.86,"g":27,"c":"g"},{"x":970,"v":-4.14,"g":27,"c":"g"},{"x":982,"v":-3.1,"g":27,"c":"g"},
      {"x":982,"v":-3.1,"g":28,"c":"r"},{"x":993,"v":-4.83,"g":28,"c":"r"},{"x":1008,"v":-5,"g":28,"c":"r"},{"x":1020,"v":-6.55,"g":28,"c":"r"},{"x":1028,"v":-7.59,"g":28,"c":"r"},
      {"x":1028,"v":-7.59,"g":29,"c":"g"},{"x":1037,"v":-6.55,"g":29,"c":"g"}
    ],
    "blue": [{"x":9,"v":-2.8},{"x":18,"v":-1.5},{"x":25,"v":-2.2},{"x":33,"v":-0.8},{"x":40,"v":-1.2},{"x":48,"v":0.6},{"x":55,"v":-1},{"x":62,"v":-1.8},{"x":68,"v":-3},{"x":74,"v":-0.5},{"x":80,"v":2.5},{"x":86,"v":3.2},{"x":92,"v":6},{"x":98,"v":5.2},{"x":104,"v":8.5},{"x":110,"v":11},{"x":116,"v":10},{"x":121,"v":7.5},{"x":127,"v":8.8},{"x":133,"v":5.8},{"x":140,"v":7},{"x":146,"v":4.5},{"x":152,"v":3},{"x":158,"v":4.5},{"x":165,"v":3.8},{"x":172,"v":6.8},{"x":178,"v":5.2},{"x":184,"v":3},{"x":190,"v":1},{"x":196,"v":0.5},{"x":202,"v":-2},{"x":208,"v":-1},{"x":214,"v":-2.5},{"x":220,"v":-1},{"x":226,"v":-0.5},{"x":232,"v":-1.8},{"x":238,"v":1.2},{"x":244,"v":4.5},{"x":250,"v":6.8},{"x":256,"v":5},{"x":262,"v":5.8},{"x":268,"v":3.2},{"x":274,"v":4.5},{"x":280,"v":2.5},{"x":286,"v":4.6},{"x":292,"v":0.8},{"x":298,"v":-0.6},{"x":304,"v":2.4},{"x":310,"v":1.2},{"x":316,"v":3.8},{"x":322,"v":2.5},{"x":328,"v":3.6},{"x":334,"v":1.8},{"x":340,"v":1},{"x":346,"v":-2},{"x":352,"v":-0.5},{"x":358,"v":-2.4},{"x":364,"v":-1},{"x":370,"v":-2.2},{"x":376,"v":-1.4},{"x":382,"v":-3},{"x":388,"v":-1.5},{"x":394,"v":-2.8},{"x":400,"v":-4.5},{"x":406,"v":-3.2},{"x":412,"v":-5.5},{"x":418,"v":-4},{"x":424,"v":-5},{"x":430,"v":-2.8},{"x":436,"v":-0.5},{"x":442,"v":1.5},{"x":448,"v":2.5},{"x":454,"v":4.8},{"x":460,"v":3.8},{"x":466,"v":6},{"x":472,"v":4.8},{"x":478,"v":6.5},{"x":484,"v":2.5},{"x":490,"v":0.5},{"x":496,"v":-3},{"x":502,"v":-3.8},{"x":508,"v":-5.2},{"x":514,"v":-3.5},{"x":520,"v":-6},{"x":526,"v":-2},{"x":532,"v":-1.2},{"x":538,"v":1},{"x":544,"v":1.8},{"x":550,"v":4},{"x":556,"v":3.5},{"x":562,"v":5.5},{"x":568,"v":3.2},{"x":574,"v":1.8},{"x":580,"v":2.5},{"x":586,"v":-0.5},{"x":592,"v":-1.8},{"x":598,"v":-3.2},{"x":604,"v":-4.5},{"x":610,"v":-2},{"x":616,"v":-3.5},{"x":622,"v":-1.5},{"x":628,"v":-2.5},{"x":634,"v":-0.8},{"x":640,"v":-2.2},{"x":646,"v":-1},{"x":652,"v":-3.5},{"x":658,"v":-4},{"x":664,"v":-5.8},{"x":670,"v":-5},{"x":676,"v":-7},{"x":682,"v":-8.5},{"x":688,"v":-6.5},{"x":694,"v":-5},{"x":700,"v":-3},{"x":706,"v":-2.2},{"x":712,"v":0.8},{"x":718,"v":-0.5},{"x":724,"v":0.5},{"x":730,"v":-1.5},{"x":736,"v":0.8},{"x":742,"v":2.5},{"x":748,"v":0.5},{"x":754,"v":1.8},{"x":760,"v":-0.2},{"x":766,"v":1.5},{"x":772,"v":-0.8},{"x":778,"v":1},{"x":784,"v":-1},{"x":790,"v":-2},{"x":796,"v":-3.2},{"x":802,"v":-1},{"x":808,"v":1.2},{"x":814,"v":-0.8},{"x":820,"v":0.2},{"x":826,"v":-2.5},{"x":832,"v":-6.5},{"x":838,"v":-4},{"x":844,"v":-5.5},{"x":850,"v":-3},{"x":856,"v":-3.8},{"x":862,"v":-2.2},{"x":868,"v":-2.8},{"x":874,"v":-1},{"x":880,"v":-2},{"x":886,"v":0.5},{"x":892,"v":-0.8},{"x":898,"v":0.2},{"x":904,"v":-1.5},{"x":910,"v":-3.8},{"x":916,"v":-3},{"x":922,"v":-6.2},{"x":928,"v":-5},{"x":934,"v":-7.2},{"x":940,"v":-6},{"x":946,"v":-7},{"x":952,"v":-4.5},{"x":958,"v":-6.2},{"x":964,"v":-3.5},{"x":970,"v":-4.8},{"x":976,"v":-2.8},{"x":982,"v":-3.5},{"x":988,"v":-5},{"x":994,"v":-3.8},{"x":1000,"v":-5.5},{"x":1006,"v":-4.2},{"x":1012,"v":-6},{"x":1018,"v":-5.2},{"x":1024,"v":-7.5},{"x":1030,"v":-6.5},{"x":1034,"v":-4},{"x":1037,"v":-3.75}]
  },
  "vconcat": [
    {
      "width": 1138,
      "height": 613,
      "resolve": {"axis": {"x": "independent", "y": "independent"}},
      "layer": [
        {
          "data": {"values": [{}]},
          "mark": {"type": "rect", "fill": {"gradient": "linear", "x1": 0, "y1": 0, "x2": 0, "y2": 1, "stops": [{"offset": 0, "color": "#1b21cd"}, {"offset": 0.31, "color": "#2229c0"}, {"offset": 0.417, "color": "#2e3aa6"}, {"offset": 0.519, "color": "#43538c"}, {"offset": 0.621, "color": "#4f6769"}, {"offset": 0.723, "color": "#566f55"}, {"offset": 1, "color": "#587250"}]}},
          "encoding": {
            "x": {"datum": 0, "type": "quantitative", "scale": {"domain": [0, 1138], "nice": false, "zero": false}, "axis": null},
            "x2": {"datum": 1138},
            "y": {"datum": 1378.19, "type": "quantitative", "scale": {"domain": [1338.9, 1378.19], "nice": false, "zero": false}, "axis": {"orient": "right", "values": [1340,1342,1344,1346,1348,1350,1352,1354,1356,1358,1360,1362,1364,1366,1368,1370,1372,1374,1376,1378], "format": ".2f", "tickSize": 5, "labelPadding": 2, "labelOverlap": false, "labelBound": false, "title": null}},
            "y2": {"datum": 1339.3}
          }
        },
        {
          "data": {"name": "strip"},
          "mark": "rect",
          "encoding": {
            "x": {"field": "x", "type": "quantitative", "axis": null},
            "x2": {"field": "x2"},
            "y": {"datum": 1339.28, "type": "quantitative", "axis": null},
            "y2": {"datum": 1338.9},
            "color": {"field": "c", "type": "nominal", "legend": null, "scale": {"domain": ["w","b","g","r","ol","br","rd","gn"], "range": ["#ffffff","#000000","#2cf02c","#ff1414","#586a18","#7a5414","#9c0c0c","#12b212"]}}
          }
        },
        {
          "data": {"name": "hi"},
          "mark": {"type": "line", "color": "#3ad6ec", "strokeWidth": 2.5, "interpolate": "step-after", "strokeJoin": "round"},
          "encoding": {"x": {"field": "x", "type": "quantitative", "axis": null}, "y": {"field": "y", "type": "quantitative", "axis": null}}
        },
        {
          "data": {"name": "lo"},
          "mark": {"type": "line", "color": "#3ad6ec", "strokeWidth": 2.5, "interpolate": "step-after", "strokeJoin": "round"},
          "encoding": {"x": {"field": "x", "type": "quantitative", "axis": null}, "y": {"field": "y", "type": "quantitative", "axis": null}}
        },
        {
          "data": {"name": "orange"},
          "mark": {"type": "line", "color": "#f5b21a", "strokeWidth": 2, "interpolate": "step-after", "strokeJoin": "round"},
          "encoding": {"x": {"field": "x", "type": "quantitative", "axis": null}, "y": {"field": "y", "type": "quantitative", "axis": null}}
        },
        {
          "data": {"name": "dots"},
          "mark": {"type": "line", "color": "#ececdc", "strokeWidth": 1, "strokeDash": [3, 2]},
          "encoding": {"x": {"field": "x", "type": "quantitative", "axis": null}, "y": {"field": "y", "type": "quantitative", "axis": null}}
        },
        {
          "data": {"name": "price"},
          "mark": {"type": "line", "strokeWidth": 1},
          "encoding": {"x": {"field": "x", "type": "quantitative", "axis": null}, "y": {"field": "y", "type": "quantitative", "axis": null}, "color": {"field": "c", "type": "nominal", "legend": null}, "detail": {"field": "g"}}
        },
        {
          "data": {"name": "ma"},
          "mark": {"type": "line", "strokeWidth": 7, "strokeJoin": "round"},
          "encoding": {"x": {"field": "x", "type": "quantitative", "axis": null}, "y": {"field": "y", "type": "quantitative", "axis": null}, "color": {"field": "c", "type": "nominal", "legend": null}, "detail": {"field": "g"}}
        },
        {
          "data": {"name": "ma2"},
          "mark": {"type": "line", "strokeWidth": 2, "strokeJoin": "round"},
          "encoding": {"x": {"field": "x", "type": "quantitative", "axis": null}, "y": {"field": "y", "type": "quantitative", "axis": null}, "color": {"field": "c", "type": "nominal", "legend": null}, "detail": {"field": "g"}}
        },
        {
          "data": {"name": "dash"},
          "mark": {"type": "line", "color": "black", "strokeWidth": 5.5, "strokeDash": [11, 7], "strokeJoin": "round"},
          "encoding": {"x": {"field": "x", "type": "quantitative", "axis": null}, "y": {"field": "y", "type": "quantitative", "axis": null}}
        },
        {
          "data": {"values": [{"t": "AaMA(T3,117)", "x": 3, "y": 1377.72}]},
          "mark": {"type": "text", "align": "left", "baseline": "middle", "color": "#e0e0e0", "fontSize": 10},
          "encoding": {"x": {"field": "x", "type": "quantitative", "axis": null}, "y": {"field": "y", "type": "quantitative", "axis": null}, "text": {"field": "t"}}
        },
        {
          "data": {"values": [{"t": "▷▯", "x": 1117, "y": 1377.1}]},
          "mark": {"type": "text", "align": "center", "baseline": "middle", "color": "#c4ccff", "fontSize": 21, "font": "DejaVu Sans"},
          "encoding": {"x": {"field": "x", "type": "quantitative", "axis": null}, "y": {"field": "y", "type": "quantitative", "axis": null}, "text": {"field": "t"}}
        },
        {
          "data": {"values": [{}]},
          "mark": {"type": "rect", "color": "#ffff00"},
          "encoding": {"x": {"datum": 1142, "type": "quantitative", "axis": null}, "x2": {"datum": 1187}, "y": {"datum": 1345.73, "type": "quantitative", "axis": null}, "y2": {"datum": 1344.77}}
        },
        {
          "data": {"values": [{}]},
          "mark": {"type": "point", "shape": "triangle-left", "filled": true, "color": "#ffff00", "size": 70, "opacity": 1},
          "encoding": {"x": {"datum": 1141, "type": "quantitative", "axis": null}, "y": {"datum": 1345.25, "type": "quantitative", "axis": null}}
        },
        {
          "data": {"values": [{"t": "1345.25"}]},
          "mark": {"type": "text", "align": "center", "baseline": "middle", "color": "black", "fontSize": 11},
          "encoding": {"x": {"datum": 1165, "type": "quantitative", "axis": null}, "y": {"datum": 1345.25, "type": "quantitative", "axis": null}, "text": {"field": "t"}}
        }
      ]
    },
    {
      "width": 1138,
      "height": 73,
      "resolve": {"axis": {"x": "independent", "y": "independent"}},
      "layer": [
        {
          "data": {"values": [{}]},
          "mark": {"type": "rule", "color": "#9a9a9a", "strokeWidth": 1},
          "encoding": {"y": {"datum": 0, "type": "quantitative", "scale": {"domain": [-10.34, 14.48], "nice": false, "zero": false}, "axis": {"orient": "right", "values": [0, 10], "tickSize": 5, "labelPadding": 2, "labelOverlap": false, "title": null}}}
        },
        {
          "data": {"name": "blue"},
          "mark": {"type": "line", "color": "#2222ff", "strokeWidth": 1},
          "encoding": {
            "x": {"field": "x", "type": "quantitative", "scale": {"domain": [0, 1138], "nice": false, "zero": false}, "axis": {"orient": "bottom", "values": [15,62,114,165,218,257,315,366,417,468,520,569,596,650,701,752,804,856,900,956,1012,1062,1113], "labelExpr": "['43:55','09:29:57','10:19:07','12:34:39','','7/19','08:09:50','09:50:27','10:26:56','12:21:36','14:33:03','','7/20','07:35:56','09:37:26','10:35:06','11:53:44','','7/22','7/23','04:41:19','09:30:41','14:27:05'][indexof([15,62,114,165,218,257,315,366,417,468,520,569,596,650,701,752,804,856,900,956,1012,1062,1113], datum.value)]", "tickSize": 4, "labelPadding": 2, "title": null}},
            "y": {"field": "v", "type": "quantitative", "axis": null}
          }
        },
        {
          "data": {"name": "osc"},
          "mark": {"type": "line", "strokeWidth": 3, "strokeJoin": "round"},
          "encoding": {
            "x": {"field": "x", "type": "quantitative", "axis": null},
            "y": {"field": "v", "type": "quantitative", "axis": null},
            "color": {"field": "c", "type": "nominal", "legend": null, "scale": {"domain": ["g", "r"], "range": ["#3cf03c", "#f01e1e"]}},
            "detail": {"field": "g"}
          }
        },
        {
          "data": {"values": [{"t": "AaMA(T3,12)", "x": 3, "v": 9.3}, {"t": "© 2012 NinjaTrader, LLC", "x": 3, "v": -8.3}]},
          "mark": {"type": "text", "align": "left", "baseline": "middle", "color": "#e0e0e0", "fontSize": 10},
          "encoding": {"x": {"field": "x", "type": "quantitative", "axis": null}, "y": {"field": "v", "type": "quantitative", "axis": null}, "text": {"field": "t"}}
        },
        {
          "data": {"values": [{}]},
          "mark": {"type": "rect", "color": "#1c1cf0", "stroke": "white", "strokeWidth": 1},
          "encoding": {"x": {"datum": 1143, "type": "quantitative", "axis": null}, "x2": {"datum": 1172}, "y": {"datum": -2.1, "type": "quantitative", "axis": null}, "y2": {"datum": -6.3}}
        },
        {
          "data": {"values": [{}]},
          "mark": {"type": "point", "shape": "triangle-left", "filled": true, "color": "#1c1cf0", "size": 60, "opacity": 1},
          "encoding": {"x": {"datum": 1141, "type": "quantitative", "axis": null}, "y": {"datum": -4.2, "type": "quantitative", "axis": null}}
        },
        {
          "data": {"values": [{"t": "-3.75"}]},
          "mark": {"type": "text", "align": "center", "baseline": "middle", "color": "white", "fontSize": 10},
          "encoding": {"x": {"datum": 1158, "type": "quantitative", "axis": null}, "y": {"datum": -4.2, "type": "quantitative", "axis": null}, "text": {"field": "t"}}
        }
      ]
    }
  ]
}
